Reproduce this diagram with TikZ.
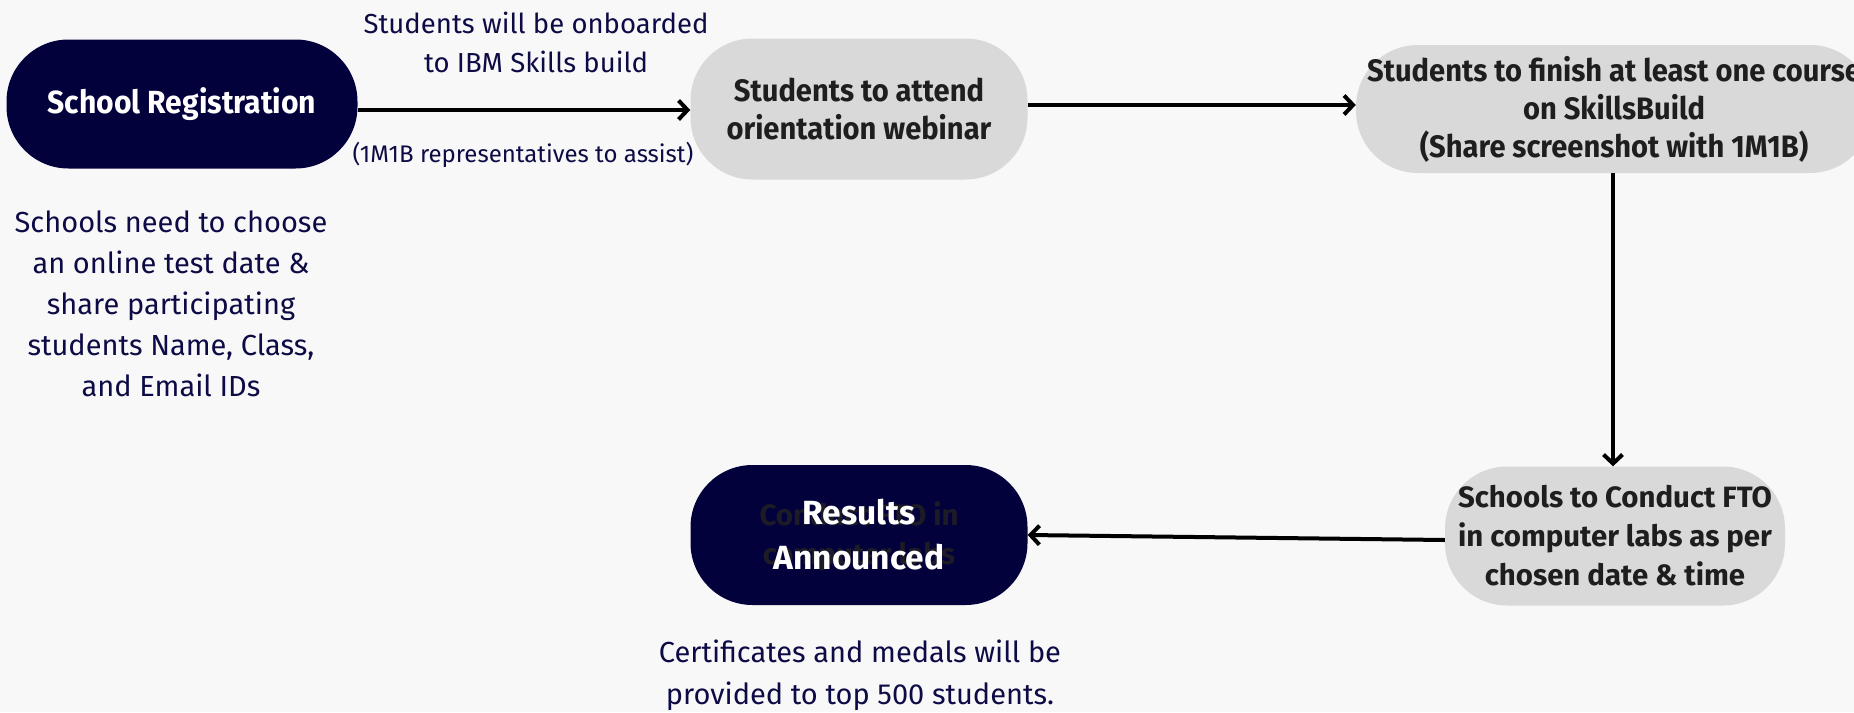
\documentclass[tikz,border=0pt]{standalone}
\usepackage{fontspec}
\setmainfont{Fira Sans}
\newfontfamily\narrowfont[FakeStretch=0.94]{Fira Sans}
\usetikzlibrary{arrows.meta}
\definecolor{navy}{HTML}{03013B}
\definecolor{stepgray}{HTML}{D9D9D9}
\definecolor{pagebg}{HTML}{F8F8F8}
\definecolor{inktext}{HTML}{0D0B45}
\definecolor{boxtext}{HTML}{1E1E1E}
\definecolor{ghosttext}{HTML}{1C1B26}

\tikzset{
 pill/.style={rounded corners=62pt, inner sep=0pt, align=center},
 darkpill/.style={pill, fill=navy, text=white},
 greypill/.style={pill, fill=stepgray, text=boxtext},
 widebold/.style={font=\fontsize{29.4}{39}\selectfont\bfseries},
 narrowbold/.style={font=\narrowfont\fontsize{31}{38}\selectfont\bfseries},
 note/.style={align=center, text=inktext, font=\fontsize{29}{41}\selectfont},
 flow/.style={line width=4pt, -{Straight Barb[length=9pt,width=19pt]}}
}

\begin{document}
\begin{tikzpicture}[x=1pt,y=-1pt]
\fill[pagebg] (0,0) rectangle (1854,712);
\useasboundingbox (0,0) rectangle (1854,712);

% steps
\node[darkpill, narrowbold, font=\narrowfont\fontsize{32}{38}\selectfont\bfseries, minimum width=351pt, minimum height=129pt] (reg) at (182,104) {School Registration};
\node[greypill, narrowbold, minimum width=337pt, minimum height=141pt] (webinar) at (859,109) {Students to attend\\orientation webinar};
\node[greypill, narrowbold, minimum width=516pt, minimum height=128pt] (course) at (1614,109) {Students to finish at least one course\\on SkillsBuild\\(Share screenshot with 1M1B)};
\node[greypill, widebold, minimum width=340pt, minimum height=139pt] (fto) at (1615,536) {Schools to Conduct FTO\\in computer labs as per\\chosen date \& time};
\node[darkpill, minimum width=337pt, minimum height=140pt] (results) at (859,535) {};
\node[widebold, align=center, text=ghosttext] (resultsold) at (859,536) {Conduct FTO in\\computer labs};
\node[widebold, align=center, text=white, font=\fontsize{33.5}{45}\selectfont\bfseries] (resultstext) at (859,535) {Results\\Announced};

% notes
\node[note, font=\fontsize{27.5}{39}\selectfont] (onboard) at (536,42) {Students will be onboarded\\to IBM Skills build};
\node[note, font=\fontsize{24}{28}\selectfont] (assist) at (523,155) {(1M1B representatives to assist)};
\node[note] (choose) at (171,304) {Schools need to choose\\an online test date \&\\share participating\\students Name, Class,\\and Email IDs};
\node[note, font=\fontsize{29}{42}\selectfont] (certs) at (860,675) {Certificates and medals will be\\provided to top 500 students.};

% connectors
\draw[flow] (reg.east |- 0,110) -- (webinar.west |- 0,110);
\draw[flow] (webinar.east |- 0,105) -- (course.west |- 0,105);
\draw[flow] (course.south -| 1613,0) -- (fto.north -| 1613,0);
\draw[flow] (fto.west |- 0,540) -- (results.east |- 0,535);
\end{tikzpicture}
\end{document}
